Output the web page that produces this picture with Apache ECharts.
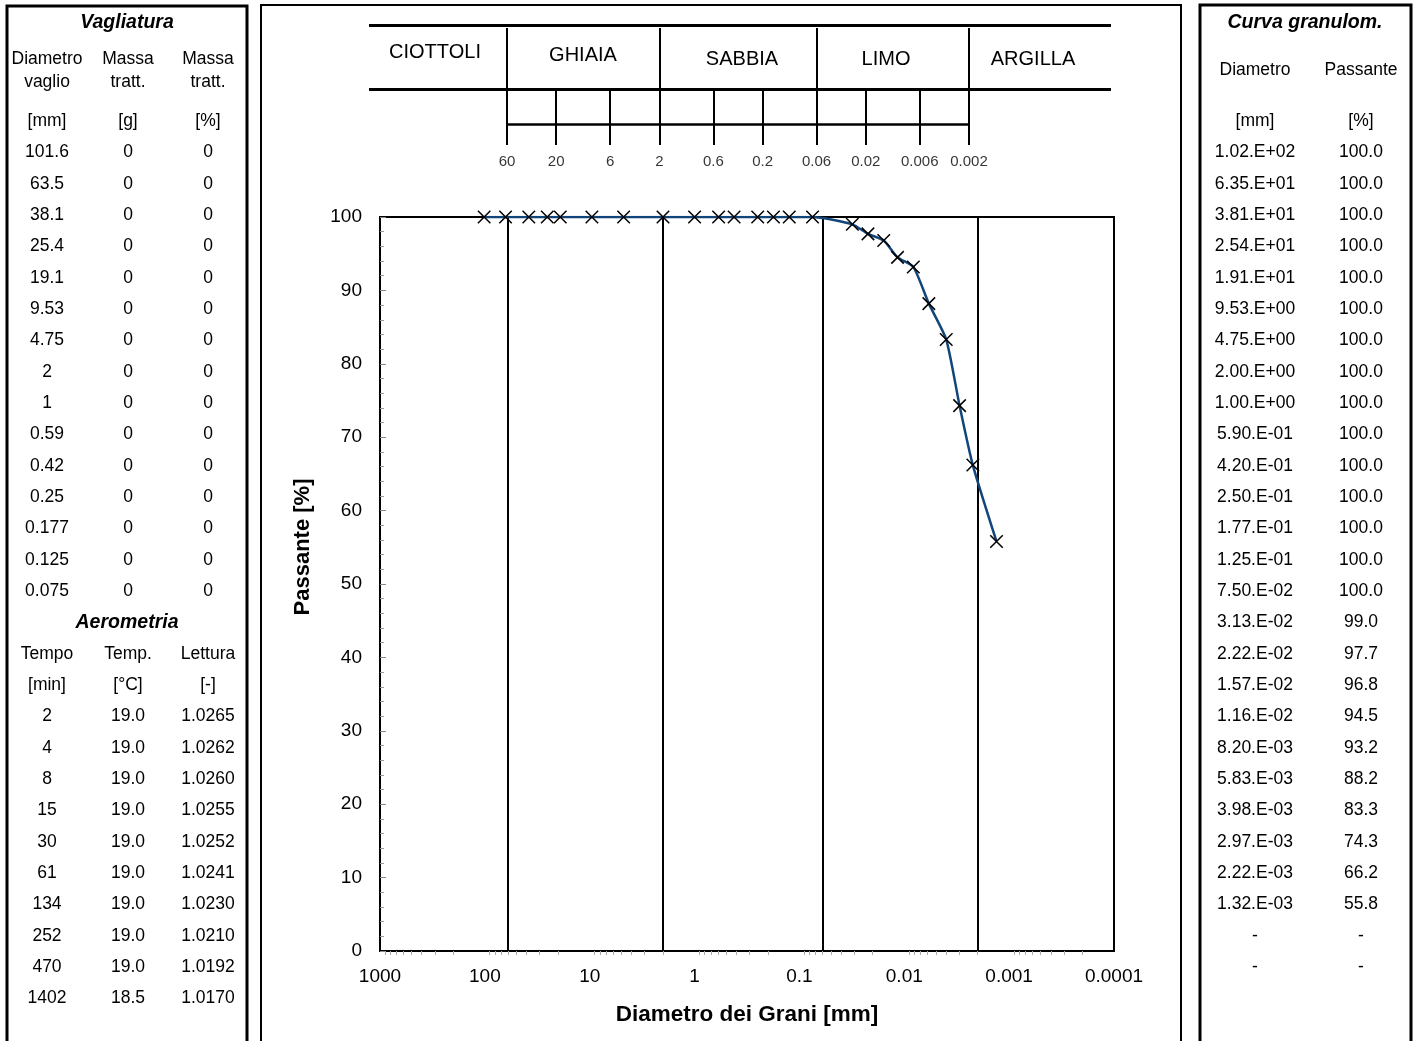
<!DOCTYPE html>
<html>
<head>
<meta charset="utf-8">
<title>Curva granulometrica</title>
<script src="https://cdn.jsdelivr.net/npm/echarts@6/dist/echarts.min.js"></script>
<style>
  html, body { margin: 0; padding: 0; background: #fff; }
  #chart { width: 1418px; height: 1041px; }
</style>
</head>
<body>
<div id="chart"></div>
<script>
// ---- Vagliatura (sieve analysis) ----
const sieveDiam = [101.6, 63.5, 38.1, 25.4, 19.1, 9.53, 4.75, 2, 1, 0.59, 0.42, 0.25, 0.177, 0.125, 0.075];
const sieveMass = [0, 0, 0, 0, 0, 0, 0, 0, 0, 0, 0, 0, 0, 0, 0];
const sievePct  = [0, 0, 0, 0, 0, 0, 0, 0, 0, 0, 0, 0, 0, 0, 0];

// ---- Aerometria (hydrometer readings) ----
const hydroTime    = [2, 4, 8, 15, 30, 61, 134, 252, 470, 1402];
const hydroTemp    = [19.0, 19.0, 19.0, 19.0, 19.0, 19.0, 19.0, 19.0, 19.0, 18.5];
const hydroReading = [1.0265, 1.0262, 1.0260, 1.0255, 1.0252, 1.0241, 1.0230, 1.0210, 1.0192, 1.0170];

// ---- Curva granulometrica (diameter mm, passing %) ----
const hydroDiam = [0.0313, 0.0222, 0.0157, 0.0116, 0.0082, 0.00583, 0.00398, 0.00297, 0.00222, 0.00132];
const curveDiam = sieveDiam.concat(hydroDiam);
const curvePass = [100, 100, 100, 100, 100, 100, 100, 100, 100, 100, 100, 100, 100, 100, 100,
                   99.0, 97.7, 96.8, 94.5, 93.2, 88.2, 83.3, 74.3, 66.2, 55.8];
const emptyRows = 2;

// ---- Soil classes (AGI) ----
const classNames = ['CIOTTOLI', 'GHIAIA', 'SABBIA', 'LIMO', 'ARGILLA'];
const classBounds = [60, 2, 0.06, 0.002];
const classTicks = [20, 6, 0.6, 0.2, 0.02, 0.006];
const classScaleValues = [60, 20, 6, 2, 0.6, 0.2, 0.06, 0.02, 0.006, 0.002];
const classScaleLabels = ['60', '20', '6', '2', '0.6', '0.2', '0.06', '0.02', '0.006', '0.002'];

// ---- Axes ----
const xMin = 0.0001, xMax = 1000;
const yMin = 0, yMax = 100, yStep = 10;
const xTitle = 'Diametro dei Grani [mm]';
const yTitle = 'Passante [%]';

const FAMILY = '"Liberation Sans", Arial, Helvetica, sans-serif';
const font = (size, weight, style) => `${style || 'normal'} ${weight || 'normal'} ${size}px ${FAMILY}`;

// 1.02.E+02 style scientific notation used in the table
function sci(v) {
  let e = Math.floor(Math.log10(v) + 1e-12);
  let m = v / Math.pow(10, e);
  if (Number(m.toFixed(2)) >= 10) { m /= 10; e += 1; }
  return m.toFixed(2) + '.E' + (e < 0 ? '-' : '+') + String(Math.abs(e)).padStart(2, '0');
}

function text(s, x, y, size, weight, style, rotation) {
  return {
    type: 'text', silent: true, x: x, y: y, rotation: rotation || 0,
    style: {
      text: s, fill: '#000', font: font(size || 17.5, weight, style),
      align: 'center', verticalAlign: 'middle',
      textAlign: 'center', textVerticalAlign: 'middle'
    }
  };
}

const rowY = i => 152.5 + 31.33 * i;
const graphics = [];

// panel frames
graphics.push({ type: 'rect', silent: true, shape: { x: 7, y: 6, width: 240, height: 1060 },
  style: { fill: 'none', stroke: '#000', lineWidth: 3 } });
graphics.push({ type: 'rect', silent: true, shape: { x: 261, y: 5, width: 920, height: 1060 },
  style: { fill: 'none', stroke: '#000', lineWidth: 2 } });
graphics.push({ type: 'rect', silent: true, shape: { x: 1200, y: 5, width: 211, height: 1060 },
  style: { fill: 'none', stroke: '#000', lineWidth: 3 } });

// left table: sieve analysis + hydrometer
const lc = [47, 128, 208];
graphics.push(text('Vagliatura', 127, 23, 19.5, 'bold', 'italic'));
graphics.push(text('Diametro', lc[0], 59), text('Massa', lc[1], 59), text('Massa', lc[2], 59));
graphics.push(text('vaglio', lc[0], 82), text('tratt.', lc[1], 82), text('tratt.', lc[2], 82));
graphics.push(text('[mm]', lc[0], 121), text('[g]', lc[1], 121), text('[%]', lc[2], 121));
sieveDiam.forEach((d, i) => {
  graphics.push(text(String(d), lc[0], rowY(i)), text(String(sieveMass[i]), lc[1], rowY(i)),
                text(String(sievePct[i]), lc[2], rowY(i)));
});
let r = sieveDiam.length;
graphics.push(text('Aerometria', 127, rowY(r), 19.5, 'bold', 'italic'));
graphics.push(text('Tempo', lc[0], rowY(r + 1)), text('Temp.', lc[1], rowY(r + 1)), text('Lettura', lc[2], rowY(r + 1)));
graphics.push(text('[min]', lc[0], rowY(r + 2)), text('[°C]', lc[1], rowY(r + 2)), text('[-]', lc[2], rowY(r + 2)));
hydroTime.forEach((t, i) => {
  const y = rowY(r + 3 + i);
  graphics.push(text(String(t), lc[0], y), text(hydroTemp[i].toFixed(1), lc[1], y),
                text(hydroReading[i].toFixed(4), lc[2], y));
});

// right table: grain-size curve values
const rc = [1255, 1361];
graphics.push(text('Curva granulom.', 1305, 23, 19.5, 'bold', 'italic'));
graphics.push(text('Diametro', rc[0], 70), text('Passante', rc[1], 70));
graphics.push(text('[mm]', rc[0], 121), text('[%]', rc[1], 121));
curveDiam.forEach((d, i) => {
  graphics.push(text(sci(d), rc[0], rowY(i)), text(curvePass[i].toFixed(1), rc[1], rowY(i)));
});
for (let k = 0; k < emptyRows; k++) {
  const y = rowY(curveDiam.length + k);
  graphics.push(text('-', rc[0], y), text('-', rc[1], y));
}

// class names in the classification band
const classLabelPos = [[435, 52], [583, 55], [742, 59], [886, 59], [1033, 59]];
classNames.forEach((n, i) => graphics.push(text(n, classLabelPos[i][0], classLabelPos[i][1], 20)));

// y axis title
graphics.push(text(yTitle, 303, 547, 22, 'bold', 'normal', Math.PI / 2));

// classification band drawn on its own log scale (60 mm ... 0.002 mm)
const bandMin = 8.41e-5, bandMax = 1304;
const bandLines = [
  { coords: [[bandMax, 0], [bandMin, 0]], lineStyle: { width: 3 } },
  { coords: [[bandMax, 64], [bandMin, 64]], lineStyle: { width: 3 } },
  { coords: [[classBounds[0], 99], [classBounds[classBounds.length - 1], 99]], lineStyle: { width: 2.5 } }
]
  .concat(classBounds.map(v => ({ coords: [[v, 3], [v, 120]] })))
  .concat(classTicks.map(v => ({ coords: [[v, 64], [v, 120]] })));

const chart = echarts.init(document.getElementById('chart'), null, { renderer: 'canvas' });

chart.setOption({
  animation: false,
  backgroundColor: '#fff',
  textStyle: { fontFamily: FAMILY },
  graphic: graphics,
  grid: [
    { left: 380, top: 217, width: 734, height: 734, show: true, borderColor: '#000', borderWidth: 2, containLabel: false },
    { left: 369, top: 25, width: 742, height: 150, show: false, containLabel: false }
  ],
  xAxis: [
    {
      gridIndex: 0, type: 'log', logBase: 10, inverse: true, min: xMin, max: xMax, interval: 1,
      axisLine: { show: true, lineStyle: { color: '#000', width: 2 } },
      axisTick: { show: false },
      minorTick: { show: true, splitNumber: 9, length: 4, lineStyle: { color: '#aaa', width: 1 } },
      splitLine: { show: false },
      axisLabel: {
        color: '#000', fontSize: 19, margin: 16, fontFamily: FAMILY,
        formatter: v => String(Number(Number(v).toPrecision(6)))
      },
      name: xTitle, nameLocation: 'middle', nameGap: 52,
      nameTextStyle: { color: '#000', fontSize: 22.5, fontWeight: 'bold', fontFamily: FAMILY }
    },
    {
      gridIndex: 1, type: 'log', logBase: 10, inverse: true, min: bandMin, max: bandMax, show: false
    }
  ],
  yAxis: [
    {
      gridIndex: 0, type: 'value', min: yMin, max: yMax, interval: yStep,
      axisLine: { show: true, lineStyle: { color: '#000', width: 2 } },
      axisTick: { show: true, inside: true, length: 6, lineStyle: { color: '#888', width: 1 } },
      minorTick: { show: true, splitNumber: 5, length: 4, lineStyle: { color: '#999', width: 1 } },
      splitLine: { show: false },
      axisLabel: { color: '#000', fontSize: 19, margin: 18, fontFamily: FAMILY }
    },
    { gridIndex: 1, type: 'value', inverse: true, min: 0, max: 150, show: false }
  ],
  series: [
    {
      // class boundaries across the plot
      type: 'lines', coordinateSystem: 'cartesian2d', xAxisIndex: 0, yAxisIndex: 0, silent: true, z: 1,
      lineStyle: { color: '#000', width: 2, opacity: 1, curveness: 0 },
      data: classBounds.map(v => ({ coords: [[v, yMin], [v, yMax]] }))
    },
    {
      name: 'Passante', type: 'line', xAxisIndex: 0, yAxisIndex: 0, z: 3,
      data: curveDiam.map((d, i) => [d, curvePass[i]]),
      smooth: 0.2,
      showAllSymbol: true,
      symbol: 'path://M0,0L10,10M10,0L0,10',
      symbolSize: 12.5,
      itemStyle: { color: '#000', borderColor: '#000', borderWidth: 1.5 },
      lineStyle: { color: '#12457a', width: 2.5 }
    },
    {
      type: 'lines', coordinateSystem: 'cartesian2d', xAxisIndex: 1, yAxisIndex: 1, silent: true,
      lineStyle: { color: '#000', width: 2, opacity: 1, curveness: 0 },
      data: bandLines
    },
    {
      type: 'scatter', xAxisIndex: 1, yAxisIndex: 1, silent: true, symbolSize: 1,
      itemStyle: { color: 'rgba(0,0,0,0)' },
      data: classScaleValues.map(v => [v, 137]),
      label: {
        show: true, position: 'inside', color: '#000', fontSize: 15, fontFamily: FAMILY,
        formatter: p => classScaleLabels[p.dataIndex]
      }
    }
  ]
});
</script>
</body>
</html>
